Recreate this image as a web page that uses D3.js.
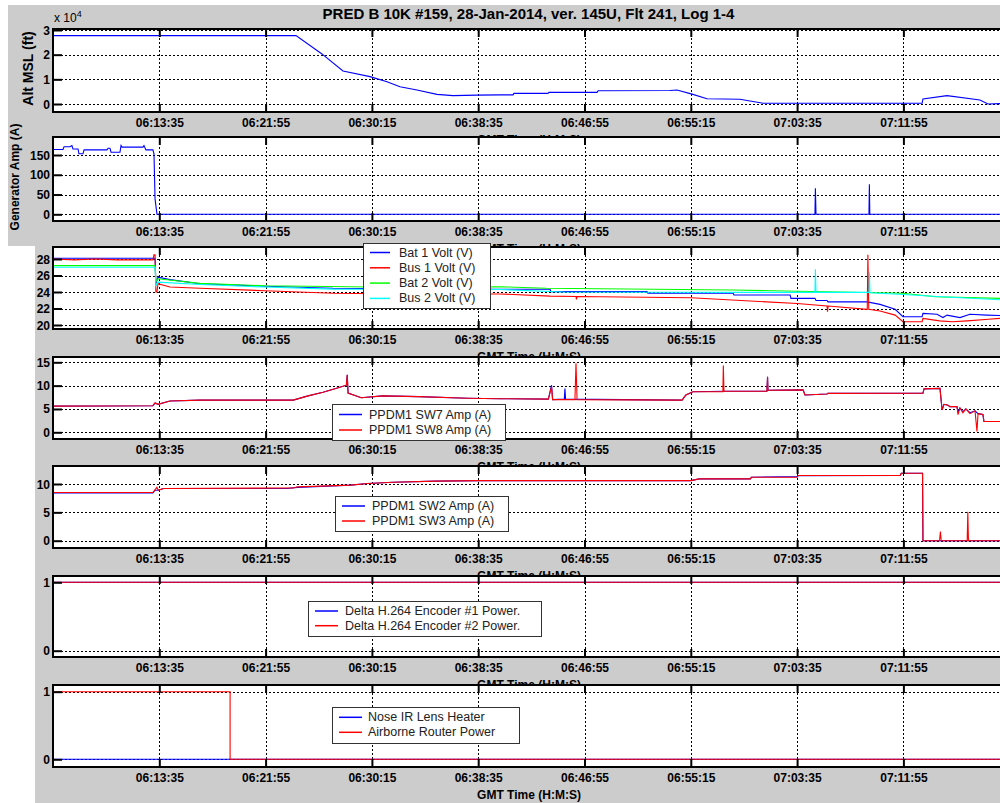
<!DOCTYPE html>
<html><head><meta charset="utf-8">
<script src="https://cdn.jsdelivr.net/npm/d3@7"></script>
<style>
body{margin:0;background:#fff}
svg{display:block}
text{font-family:"Liberation Sans",Arial,sans-serif}
</style>
</head><body>
<svg id="c" width="1000" height="803"></svg>
<script>
// ---------------- DATA ----------------
const START = "06:05:15";               // time at left edge of every panel
const title = "PRED B 10K #159, 28-Jan-2014, ver. 145U, Flt 241, Log 1-4";
const tickLabels = ["06:13:35","06:21:55","06:30:15","06:38:35","06:46:55","06:55:15","07:03:35","07:11:55"];
const xLabel = "GMT Time (H:M:S)";

// all series: [elapsed seconds since START, value]
const altMSL = [[0,2.77],[1143,2.77],[1265,2.03],[1364,1.34],[1491,1.11],[1571,0.90],[1632,0.70],[1712,0.57],[1806,0.39],[1881,0.34],[1994,0.36],[2103,0.37],[2164,0.37],[2168,0.43],[2328,0.43],[2333,0.47],[2559,0.47],[2564,0.54],[2902,0.55],[2935,0.57],[3006,0.40],[3076,0.21],[3231,0.19],[3340,0.03],[4088,0.03],[4092,0.20],[4205,0.34],[4360,0.16],[4398,0.0],[4500,0.03]]; // x 10^4 ft

const generatorAmp = [[0,164],[47,164],[52,171],[80,171],[89,174],[94,165],[118,165],[122,153],[141,153],[146,163],[254,163],[259,167],[268,167],[273,157],[315,157],[320,174],[325,170],[423,170],[428,174],[437,163],[470,163],[475,153],[480,39],[489,0],[3584,0],[3586,66],[3589,0],[3838,0],[3840,76],[3842,0],[4500,0]];

const bat1Volt = [[0,28.1],[480,28.1],[484,25.0],[494,25.8],[550,25.5],[691,25.0],[997,24.7],[1317,24.45],[1632,24.4],[2103,24.33],[2338,24.33],[2342,24.04],[2794,24.04],[2798,23.84],[3199,23.84],[3203,23.64],[3467,23.64],[3471,23.23],[3584,23.23],[3589,22.97],[3641,22.97],[3645,22.8],[3829,22.8],[3890,22.5],[3961,21.9],[3998,21.0],[4088,21.0],[4092,21.4],[4158,21.3],[4186,20.9],[4205,21.2],[4266,20.9],[4313,21.3],[4393,21.2],[4500,21.1]];
const bus1Volt = [[0,28.0],[100,27.9],[200,28.0],[300,27.9],[470,27.9],[475,28.5],[480,28.5],[484,24.0],[489,24.0],[494,25.0],[550,24.6],[691,24.45],[997,24.15],[1317,23.84],[1632,23.76],[2103,23.76],[2338,23.5],[2460,23.45],[2462,23.1],[2465,23.45],[3000,23.3],[3500,22.6],[3641,22.3],[3643,21.6],[3646,22.3],[3830,21.9],[3833,28.5],[3837,21.9],[3890,21.7],[3961,21.2],[3998,20.4],[4088,20.4],[4092,20.8],[4170,20.5],[4230,20.4],[4300,20.5],[4400,20.7],[4500,20.9]];
const bat2Volt = [[0,27.2],[480,27.2],[484,25.3],[494,25.6],[691,25.05],[997,24.75],[1500,24.6],[2103,24.64],[2320,24.45],[3200,24.24],[3500,24.1],[3700,24.0],[3998,23.84],[4150,23.43],[4500,23.2]];
const bus2Volt = [[0,27.0],[480,27.0],[484,24.8],[494,25.2],[691,24.9],[997,24.6],[1317,24.35],[2103,24.3],[2400,24.0],[3584,23.95],[3586,26.75],[3589,23.95],[3838,23.95],[3840,26.4],[3843,23.9],[3998,23.7],[4200,23.4],[4500,23.0]];

const sw7Amp = [[0,5.6],[470,5.7],[480,6.3],[494,6.0],[550,6.7],[691,6.9],[1130,6.9],[1200,7.8],[1270,8.6],[1330,9.4],[1380,10.1],[1384,12.3],[1388,8.4],[1450,7.4],[1550,7.8],[1720,7.65],[1950,7.3],[2103,7.2],[2330,7.1],[2345,10.1],[2350,7.0],[2405,7.1],[2408,9.4],[2411,7.1],[2959,6.9],[2977,8.0],[3010,8.7],[3156,8.8],[3358,8.8],[3361,11.9],[3363,9.0],[3528,9.1],[3537,8.0],[3641,8.2],[3645,8.35],[4092,8.4],[4097,9.3],[4172,9.4],[4182,4.8],[4191,6.0],[4210,5.8],[4219,5.5],[4252,5.5],[4257,4.4],[4266,5.2],[4280,4.4],[4294,5.0],[4313,4.2],[4337,4.6],[4351,4.0],[4374,3.8],[4379,2.3],[4500,2.3]];
const sw8Amp = [[0,5.6],[470,5.7],[480,6.3],[494,6.0],[550,6.7],[691,6.9],[1130,6.9],[1200,7.8],[1270,8.6],[1330,9.4],[1380,10.1],[1384,12.3],[1388,8.4],[1450,7.4],[1550,7.8],[1720,7.65],[1950,7.3],[2103,7.2],[2330,7.1],[2345,9.8],[2350,7.0],[2455,7.0],[2460,14.8],[2465,7.0],[2959,6.9],[2977,8.0],[3010,8.7],[3151,8.7],[3153,14.3],[3156,8.8],[3358,8.8],[3361,11.9],[3363,9.0],[3528,9.1],[3537,8.0],[3641,8.2],[3645,8.35],[4092,8.4],[4097,9.3],[4172,9.4],[4182,4.8],[4191,6.0],[4210,5.8],[4219,5.5],[4252,5.5],[4257,3.8],[4266,5.2],[4280,4.2],[4294,5.0],[4313,4.0],[4337,4.6],[4346,0.2],[4351,4.0],[4374,3.8],[4379,2.3],[4500,2.3]];

const sw2Amp = [[0,8.4],[470,8.4],[480,8.9],[494,8.9],[520,9.2],[1100,9.2],[1150,9.4],[1400,9.8],[1480,10.1],[1600,10.3],[1800,10.5],[2000,10.6],[3000,10.6],[3040,10.9],[3280,10.9],[3285,11.2],[3500,11.3],[3505,11.45],[3985,11.5],[3990,11.9],[4090,11.9],[4092,0],[4500,0]];
const sw3Amp = [[0,8.5],[470,8.5],[480,9.0],[489,9.4],[494,8.9],[520,9.2],[1130,9.3],[1150,9.5],[1400,9.8],[1480,10.1],[1600,10.3],[1800,10.5],[2000,10.6],[3000,10.6],[3040,10.9],[3280,10.9],[3285,11.2],[3500,11.2],[3505,11.5],[3985,11.5],[3990,11.9],[4090,11.9],[4092,0],[4170,0],[4174,1.6],[4178,0],[4300,0],[4303,5.1],[4306,0],[4500,0]];

const encoder1Power = [[0,1],[4500,1]];
const encoder2Power = [[0,1],[4500,1]];
const noseIRHeater = [[0,0],[4500,0]];
const routerPower = [[0,1],[833,1],[833,0],[4500,0]];

// ---------------- LAYOUT ----------------
const XL = 53, XR = 1012;
const panels = [
  {top:29, bottom:112, dom:[0,3], rng:[104,30], ticks:[0,1,2,3],
   ylabel:{text:"Alt MSL (ft)", x:28, size:14}, mult:true,
   series:[{name:"Alt", data:altMSL, color:"#0000ff"}]},
  {top:137, bottom:221, dom:[0,150], rng:[214.3,155], ticks:[0,50,100,150],
   ylabel:{text:"Generator Amp (A)", x:15, size:12},
   series:[{name:"Gen", data:generatorAmp, color:"#0000ff"}]},
  {top:247, bottom:329, dom:[20,28], rng:[325,259], ticks:[20,22,24,26,28],
   series:[{name:"Bat 1 Volt (V)", data:bat1Volt, color:"#0000ff"},
           {name:"Bus 1 Volt (V)", data:bus1Volt, color:"#ff0000"},
           {name:"Bat 2 Volt (V)", data:bat2Volt, color:"#00ff00"},
           {name:"Bus 2 Volt (V)", data:bus2Volt, color:"#00ffff"}],
   legend:{x:363, y:243, w:127, h:65, lx:370, lw:20, tx:399, y0:252.5, dy:15.3}},
  {top:357, bottom:439, dom:[0,15], rng:[432.3,362.3], ticks:[0,5,10,15],
   series:[{name:"PPDM1 SW7 Amp (A)", data:sw7Amp, color:"#0000ff"},
           {name:"PPDM1 SW8 Amp (A)", data:sw8Amp, color:"#ff0000"}],
   legend:{x:332, y:404, w:173, h:36, lx:339, lw:23, tx:369, y0:414.5, dy:15.5}},
  {top:466, bottom:548, dom:[0,10], rng:[540.7,484], ticks:[0,5,10],
   series:[{name:"PPDM1 SW2 Amp (A)", data:sw2Amp, color:"#0000ff"},
           {name:"PPDM1 SW3 Amp (A)", data:sw3Amp, color:"#ff0000"}],
   legend:{x:335, y:496, w:173, h:35, lx:342, lw:23, tx:372, y0:506, dy:15}},
  {top:576, bottom:657, dom:[0,1], rng:[650.7,582.3], ticks:[0,1],
   series:[{name:"Delta H.264 Encoder #1 Power.", data:encoder1Power, color:"#0000ff"},
           {name:"Delta H.264 Encoder #2 Power.", data:encoder2Power, color:"#ff0000"}],
   legend:{x:308, y:601, w:233, h:35, lx:315, lw:23, tx:345, y0:611, dy:14.7}},
  {top:685, bottom:767, dom:[0,1], rng:[759.3,691.7], ticks:[0,1],
   series:[{name:"Nose IR Lens Heater", data:noseIRHeater, color:"#0000ff"},
           {name:"Airborne Router Power", data:routerPower, color:"#ff0000"}],
   legend:{x:332, y:707, w:187, h:36, lx:339, lw:23, tx:368, y0:717.3, dy:15}}
];

// ---------------- DRAW ----------------
const svg = d3.select("#c");
const toSec = s => { const [h,m,ss] = s.split(":").map(Number); return h*3600+m*60+ss; };
const t0 = toSec(START);
const tickVals = tickLabels.map(s => toSec(s) - t0);
const x = d3.scaleLinear().domain([0, 4000]).range([53, 903.4]);
const FONT = '"Liberation Sans",Arial,sans-serif';

svg.append("rect").attr("x",8).attr("y",5).attr("width",992).attr("height",241).attr("fill","#cccccc");
svg.append("rect").attr("x",35).attr("y",246).attr("width",965).attr("height",557).attr("fill","#cccccc");

svg.append("text").attr("x",528.5).attr("y",13).attr("text-anchor","middle")
  .attr("dominant-baseline","central").style("font-weight","bold").style("font-size","15px").text(title);

panels.forEach((p,i) => {
  const g = svg.append("g");
  const y = d3.scaleLinear().domain(p.dom).range(p.rng);
  const H = p.bottom - p.top;
  g.append("clipPath").attr("id","clip"+i).append("rect")
    .attr("x",XL).attr("y",p.top).attr("width",XR-XL).attr("height",H);
  g.append("rect").attr("x",XL).attr("y",p.top).attr("width",XR-XL).attr("height",H).attr("fill","#fff");

  // grid
  const gx = g.append("g").attr("transform",`translate(0,${p.bottom})`)
    .call(d3.axisBottom(x).tickValues(tickVals).tickSize(-H).tickFormat(""));
  const gy = g.append("g").attr("transform",`translate(${XL},0)`)
    .call(d3.axisLeft(y).tickValues(p.ticks).tickSize(-(XR-XL)).tickFormat(""));
  [gx,gy].forEach(a => {
    a.select(".domain").remove();
    a.selectAll("line").attr("stroke","#000").attr("stroke-width",1).attr("stroke-dasharray","2,2").attr("shape-rendering","crispEdges");
  });

  // series
  const line = d3.line().x(d => x(d[0])).y(d => y(d[1]));
  p.series.forEach(s => {
    g.append("path").attr("d", line(s.data)).attr("fill","none")
      .attr("stroke", s.color).attr("stroke-width",1.1).attr("clip-path",`url(#clip${i})`);
  });

  // frame
  g.append("rect").attr("x",XL).attr("y",p.top).attr("width",XR-XL).attr("height",H)
    .attr("fill","none").attr("stroke","#000").attr("stroke-width",2);

  // x axis ticks + labels
  const ax = g.append("g").attr("transform",`translate(0,${p.bottom})`)
    .call(d3.axisBottom(x).tickValues(tickVals).tickFormat((d,k)=>tickLabels[k]).tickSizeInner(-8).tickSizeOuter(0));
  ax.select(".domain").remove();
  ax.selectAll("line").attr("stroke","#000").attr("stroke-width",2);
  ax.selectAll("text").attr("y",10.5).attr("dy",null).attr("dominant-baseline","central")
    .attr("fill","#000").style("font-size","12px").style("font-weight","bold").style("font-family",FONT);
  const axT = g.append("g").attr("transform",`translate(0,${p.top})`)
    .call(d3.axisTop(x).tickValues(tickVals).tickFormat("").tickSizeInner(-8).tickSizeOuter(0));
  axT.select(".domain").remove();
  axT.selectAll("line").attr("stroke","#000").attr("stroke-width",2);

  // y axis
  const ay = g.append("g").attr("transform",`translate(${XL},0)`)
    .call(d3.axisLeft(y).tickValues(p.ticks).tickFormat(d3.format("d")).tickSizeInner(-9).tickSizeOuter(0).tickPadding(3));
  ay.select(".domain").remove();
  ay.selectAll("line").attr("stroke","#000").attr("stroke-width",2);
  ay.selectAll("text").attr("dy",null).attr("dominant-baseline","central").attr("fill","#000")
    .style("font-size","12px").style("font-weight","bold").style("font-family",FONT);

  // x label
  g.append("text").attr("x",529).attr("y",p.bottom+27.5).attr("text-anchor","middle")
    .attr("dominant-baseline","central").style("font-size","12px").style("font-weight","bold").text(xLabel);

  if (p.ylabel) {
    const cy = (p.top+p.bottom)/2 - 2;
    g.append("text").attr("transform",`translate(${p.ylabel.x},${cy}) rotate(-90)`)
      .attr("text-anchor","middle").attr("dominant-baseline","central")
      .style("font-size",p.ylabel.size+"px").style("font-weight","bold").text(p.ylabel.text);
  }
  if (p.mult) {
    const t = g.append("text").attr("x",54).attr("y",22).style("font-size","12px");
    t.append("tspan").text("x 10");
    t.append("tspan").attr("dy",-5).style("font-size","9px").text("4");
  }

  // legend
  if (p.legend) {
    const L = p.legend;
    g.append("rect").attr("x",L.x+0.5).attr("y",L.y+0.5).attr("width",L.w).attr("height",L.h)
      .attr("fill","#fff").attr("stroke","#333").attr("stroke-width",1);
    p.series.forEach((s,k) => {
      const yy = L.y0 + k*L.dy;
      g.append("line").attr("x1",L.lx).attr("x2",L.lx+L.lw).attr("y1",yy).attr("y2",yy)
        .attr("stroke",s.color).attr("stroke-width",1.5);
      g.append("text").attr("x",L.tx).attr("y",yy).attr("dominant-baseline","central")
        .attr("fill","#222").style("font-size","12.5px").text(s.name);
    });
  }
});
</script>
</body></html>
